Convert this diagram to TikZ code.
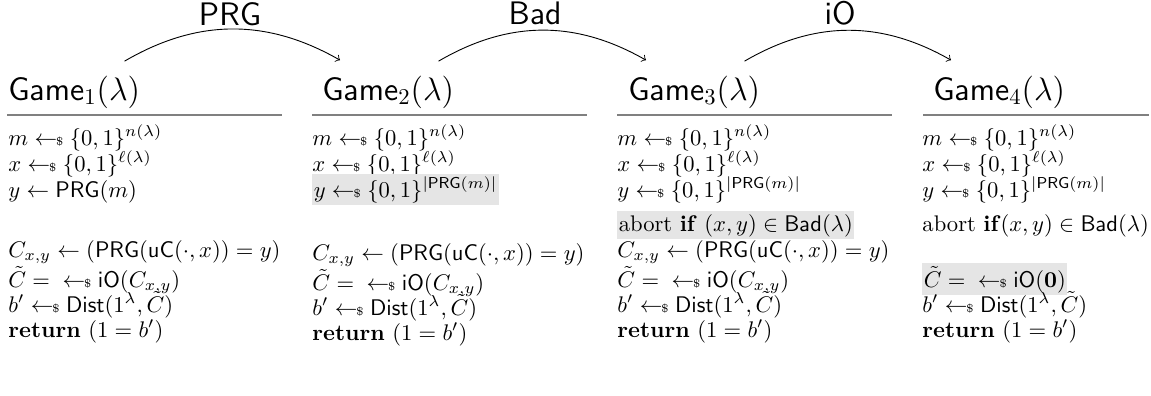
\documentclass[tikz,border=0pt]{standalone}
\usepackage{amsmath,amssymb}
\newcommand{\smpl}{\mathrel{\gets\!\!\mbox{\tiny\$}}}
\tikzset{
  px/.style={x=0.4425pt,y=-0.4425pt},
  ln/.style={anchor=base west,inner sep=0pt},
  hl/.style={ln,fill=gray!20,inner xsep=0.6pt,inner ysep=1.2pt},
  ttl/.style={anchor=base west,inner sep=0pt,font=\Large},
  lbl/.style={anchor=base,inner sep=0pt,font=\Large\sffamily},
  rule/.style={draw=gray,line width=0.7pt},
  arr/.style={->,line width=0.4pt}
}
\begin{document}
\begin{tikzpicture}[px]
\useasboundingbox (0,0) rectangle (1151,395);
% titles
\node[ttl] (t1) at (8,100) {$\mathsf{Game}_1(\lambda)$};
\node[ttl] (t2) at (322,100) {$\mathsf{Game}_2(\lambda)$};
\node[ttl] (t3) at (628,100) {$\mathsf{Game}_3(\lambda)$};
\node[ttl] (t4) at (933,100) {$\mathsf{Game}_4(\lambda)$};
% rules
\draw[rule] (7,115) -- (282,115);
\draw[rule] (312,115) -- (587,115);
\draw[rule] (617,115) -- (892,115);
\draw[rule] (923,115) -- (1149,115);
% arrows
\node[lbl] (l1) at (230,25) {PRG};
\node[lbl] (l2) at (535,24) {Bad};
\node[lbl] (l3) at (840,24) {iO};
\draw[arr] ([shift={(-16,-14)}]t1.north east) to[bend left=30] ([shift={(18,-15)}]t2.north west);
\draw[arr] ([shift={(-16,-14)}]t2.north east) to[bend left=30] ([shift={(18,-15)}]t3.north west);
\draw[arr] ([shift={(-16,-14)}]t3.north east) to[bend left=30] ([shift={(18,-15)}]t4.north west);
% column 1
\node[ln] (a1) at (8,145) {$m \smpl \{0,1\}^{n(\lambda)}$};
\node[ln] (a2) at (8,171) {$x \smpl \{0,1\}^{\ell(\lambda)}$};
\node[ln] (a3) at (8,197) {$y \gets \mathsf{PRG}(m)$};
\node[ln] (a5) at (8,257) {$C_{x,y} \gets (\mathsf{PRG}(\mathsf{uC}(\cdot,x)) = y)$};
\node[ln] (a6) at (8,287) {$\tilde{C} = {}\smpl \mathsf{iO}(C_{x,y})$};
\node[ln] (a7) at (8,312) {$b' \smpl \mathsf{Dist}(1^\lambda,\tilde{C})$};
\node[ln] (a8) at (8,337) {\textbf{return} $(1 = b')$};
% column 2
\node[ln] (b1) at (312,145) {$m \smpl \{0,1\}^{n(\lambda)}$};
\node[ln] (b2) at (312,171) {$x \smpl \{0,1\}^{\ell(\lambda)}$};
\node[hl] (b3) at (312,197) {$y \smpl \{0,1\}^{|\mathsf{PRG}(m)|}$};
\node[ln] (b5) at (312,260) {$C_{x,y} \gets (\mathsf{PRG}(\mathsf{uC}(\cdot,x)) = y)$};
\node[ln] (b6) at (312,290) {$\tilde{C} = {}\smpl \mathsf{iO}(C_{x,y})$};
\node[ln] (b7) at (312,315) {$b' \smpl \mathsf{Dist}(1^\lambda,\tilde{C})$};
\node[ln] (b8) at (312,340) {\textbf{return} $(1 = b')$};
% column 3
\node[ln] (c1) at (617,145) {$m \smpl \{0,1\}^{n(\lambda)}$};
\node[ln] (c2) at (617,171) {$x \smpl \{0,1\}^{\ell(\lambda)}$};
\node[ln] (c3) at (617,197) {$y \smpl \{0,1\}^{|\mathsf{PRG}(m)|}$};
\node[hl] (c4) at (617,231) {abort \textbf{if} $(x,y) \in \mathsf{Bad}(\lambda)$};
\node[ln] (c5) at (617,257) {$C_{x,y} \gets (\mathsf{PRG}(\mathsf{uC}(\cdot,x)) = y)$};
\node[ln] (c6) at (617,287) {$\tilde{C} = {}\smpl \mathsf{iO}(C_{x,y})$};
\node[ln] (c7) at (617,312) {$b' \smpl \mathsf{Dist}(1^\lambda,\tilde{C})$};
\node[ln] (c8) at (617,337) {\textbf{return} $(1 = b')$};
% column 4
\node[ln] (d1) at (922,145) {$m \smpl \{0,1\}^{n(\lambda)}$};
\node[ln] (d2) at (922,171) {$x \smpl \{0,1\}^{\ell(\lambda)}$};
\node[ln] (d3) at (922,197) {$y \smpl \{0,1\}^{|\mathsf{PRG}(m)|}$};
\node[ln] (d4) at (922,231) {abort \textbf{if}$(x,y) \in \mathsf{Bad}(\lambda)$};
\node[hl] (d6) at (922,287) {$\tilde{C} = {}\smpl \mathsf{iO}(\mathbf{0})$};
\node[ln] (d7) at (922,312) {$b' \smpl \mathsf{Dist}(1^\lambda,\tilde{C})$};
\node[ln] (d8) at (922,337) {\textbf{return} $(1 = b')$};
\end{tikzpicture}
\end{document}
